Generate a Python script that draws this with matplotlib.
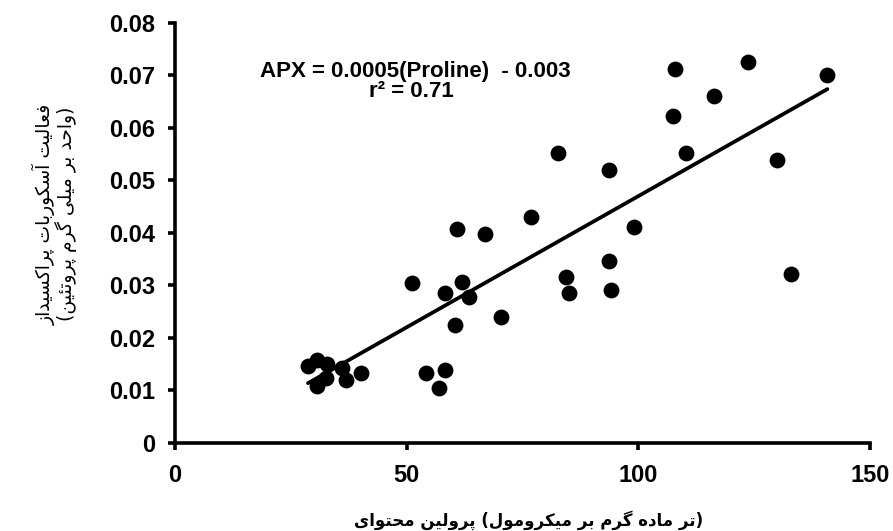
import matplotlib
matplotlib.use("Agg")
import matplotlib.pyplot as plt
import numpy as np

# Proline content (x) and APX activity (y)
proline = [28.7, 30.7, 32.8, 32.5, 30.7, 36.1, 36.8, 40.2,
           51.1, 54.2, 58.2, 56.9, 60.8, 61.9, 58.3, 63.4, 60.5,
           67.0, 70.4, 76.8, 82.6, 84.3, 85.1, 93.7, 93.7, 94.0,
           99.1, 107.5, 108.0, 110.2, 116.3, 123.6, 129.9, 133.0, 140.8]
apx = [0.0146, 0.0157, 0.0150, 0.0124, 0.0108, 0.0143, 0.0119, 0.0133,
       0.0304, 0.0133, 0.0138, 0.0104, 0.0408, 0.0307, 0.0285, 0.0278, 0.0225,
       0.0398, 0.0239, 0.0430, 0.0552, 0.0316, 0.0285, 0.0520, 0.0347, 0.0292,
       0.0411, 0.0623, 0.0712, 0.0552, 0.0661, 0.0726, 0.0538, 0.0322, 0.0700]

slope = 0.0005
intercept = -0.003
r_squared = 0.71

x_ticks = [0, 50, 100, 150]
y_ticks = [0, 0.01, 0.02, 0.03, 0.04, 0.05, 0.06, 0.07, 0.08]
y_tick_labels = ["0", "0.01", "0.02", "0.03", "0.04", "0.05", "0.06", "0.07", "0.08"]

x_label = "محتوای پرولین (میکرومول بر گرم ماده تر)"
y_label_lines = ["فعالیت آسکوربات پراکسیداز", "(واحد بر میلی گرم پروتئین)"]

# --- minimal Persian shaping (presentation forms) ---
FORMS = {
    "ا": (0xFE8D, 0xFE8E, None, None),
    "آ": (0xFE81, 0xFE82, None, None),
    "د": (0xFEA9, 0xFEAA, None, None),
    "ر": (0xFEAD, 0xFEAE, None, None),
    "ز": (0xFEAF, 0xFEB0, None, None),
    "و": (0xFEED, 0xFEEE, None, None),
    "ب": (0xFE8F, 0xFE90, 0xFE91, 0xFE92),
    "ت": (0xFE95, 0xFE96, 0xFE97, 0xFE98),
    "ح": (0xFEA1, 0xFEA2, 0xFEA3, 0xFEA4),
    "س": (0xFEB1, 0xFEB2, 0xFEB3, 0xFEB4),
    "ع": (0xFEC9, 0xFECA, 0xFECB, 0xFECC),
    "ف": (0xFED1, 0xFED2, 0xFED3, 0xFED4),
    "ل": (0xFEDD, 0xFEDE, 0xFEDF, 0xFEE0),
    "م": (0xFEE1, 0xFEE2, 0xFEE3, 0xFEE4),
    "ن": (0xFEE5, 0xFEE6, 0xFEE7, 0xFEE8),
    "ه": (0xFEE9, 0xFEEA, 0xFEEB, 0xFEEC),
    "ئ": (0xFE89, 0xFE8A, 0xFE8B, 0xFE8C),
    "پ": (0xFB56, 0xFB57, 0xFB58, 0xFB59),
    "ک": (0xFB8E, 0xFB8F, 0xFB90, 0xFB91),
    "گ": (0xFB92, 0xFB93, 0xFB94, 0xFB95),
    "ی": (0xFBFC, 0xFBFD, 0xFBFE, 0xFBFF),
}


def dual(c):
    return c in FORMS and FORMS[c][2] is not None


def shape_word(word):
    out = []
    for i, c in enumerate(word):
        if c not in FORMS:
            out.append(c)
            continue
        prev_j = i > 0 and dual(word[i - 1])
        next_j = dual(c) and i + 1 < len(word) and word[i + 1] in FORMS
        iso, fin, ini, med = FORMS[c]
        if prev_j and next_j:
            out.append(chr(med))
        elif prev_j:
            out.append(chr(fin))
        elif next_j:
            out.append(chr(ini))
        else:
            out.append(chr(iso))
    return out


def visual_word(word):
    glyphs = shape_word(word)
    mirror = {"(": ")", ")": "("}
    return "".join(mirror.get(g, g) for g in reversed(glyphs))


def rtl(text):
    """Right-to-left line: words and letters reversed, brackets mirrored."""
    return " ".join(visual_word(w) for w in reversed(text.split(" ")))


def ltr_words(text):
    """Words kept left-to-right, each word shaped right-to-left."""
    parts = []
    for w in text.split(" "):
        lead = w[:len(w) - len(w.lstrip("("))]
        core = w.lstrip("(")
        trail = core[len(core.rstrip(")")):]
        core = core.rstrip(")")
        parts.append(lead + "".join(reversed(shape_word(core))) + trail)
    return " ".join(parts)


plt.rcParams["font.family"] = ["Liberation Sans", "DejaVu Sans"]

W, H = 893, 531
fig = plt.figure(figsize=(W / 100, H / 100), dpi=100)
ax = fig.add_axes([175 / W, 1 - 442.7 / H, 695 / W, (442.7 - 23) / H])

ax.scatter(proline, apx, s=130, color="black", zorder=3, linewidths=0)

xs = np.array([min(proline), max(proline)])
ax.plot(xs, slope * xs + intercept, color="black", lw=2.7, zorder=2,
        solid_capstyle="round")

ax.set_xlim(0, 150)
ax.set_ylim(0, 0.08)
ax.set_xticks(x_ticks)
ax.set_xticklabels([str(t) for t in x_ticks])
ax.set_yticks(y_ticks)
ax.set_yticklabels(y_tick_labels)

for side in ("top", "right"):
    ax.spines[side].set_visible(False)
for side in ("left", "bottom"):
    ax.spines[side].set_linewidth(2.6)
    ax.spines[side].set_capstyle("projecting")

ax.tick_params(axis="both", direction="out", length=5, width=2.6,
               labelsize=17)
ax.tick_params(axis="y", pad=9)
ax.tick_params(axis="x", pad=10)
for lab in ax.get_xticklabels() + ax.get_yticklabels():
    lab.set_fontweight("bold")

fig.text(415.5 / W, 1 - 76.7 / H,
         "APX = %.4f(Proline)  - %.3f" % (slope, -intercept),
         ha="center", va="baseline", fontsize=16, fontweight="bold")
fig.text(411 / W, 1 - 96.7 / H, "r² = %.2f" % r_squared,
         ha="center", va="baseline", fontsize=16, fontweight="bold")

fig.text(529 / W, 1 - 520 / H, ltr_words(x_label), ha="center", va="center",
         fontsize=12, fontweight="bold", family="DejaVu Sans")
fig.text(55 / W, 1 - 214 / H, "\n".join(rtl(l) for l in y_label_lines),
         rotation=90, ha="center", va="center", fontsize=13.5,
         family="DejaVu Sans", linespacing=0.95, multialignment="center")

fig.savefig("out.png", dpi=100)
